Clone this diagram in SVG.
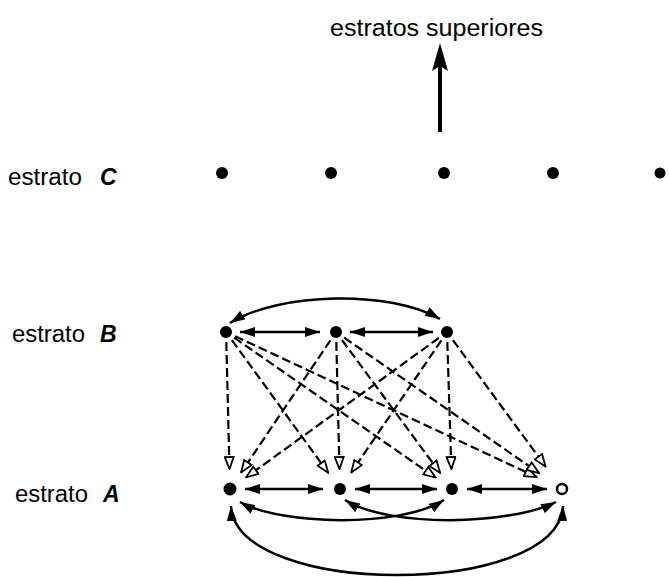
<svg xmlns="http://www.w3.org/2000/svg" width="669" height="577" viewBox="0 0 669 577">
<style>
text{font-family:"Liberation Sans",Arial,sans-serif;font-size:23px;fill:#000}
.L{font-weight:bold;font-style:italic}
.node{fill:#000}
.s{stroke:#000;stroke-width:2.5;fill:none}
.d{stroke:#000;stroke-width:2.2;fill:none;stroke-dasharray:9 4}
.sa{marker-start:url(#hs);marker-end:url(#hs)}
.da{marker-end:url(#ho)}
</style>
<defs>
<marker id="hs" viewBox="0 0 15 10" refX="15" refY="5" markerWidth="15" markerHeight="10" markerUnits="userSpaceOnUse" orient="auto-start-reverse"><path d="M0,0 L15,5 L0,10 z" fill="#000"/></marker>
<marker id="ho" viewBox="0 0 14 11" refX="13" refY="5.5" markerWidth="14" markerHeight="11" markerUnits="userSpaceOnUse" orient="auto"><path d="M1,1 L13,5.5 L1,10 z" fill="#fff" stroke="#000" stroke-width="1.8"/></marker>
</defs>
<g id="labels">
<text x="330" y="36" textLength="213" lengthAdjust="spacingAndGlyphs">estratos superiores</text>
<text x="8" y="185" textLength="74" lengthAdjust="spacingAndGlyphs">estrato</text><text class="L" x="100" y="185">C</text>
<text x="12" y="342" textLength="73" lengthAdjust="spacingAndGlyphs">estrato</text><text class="L" x="100" y="342">B</text>
<text x="15" y="502" textLength="73" lengthAdjust="spacingAndGlyphs">estrato</text><text class="L" x="103" y="502">A</text>
</g>
<g id="connectors">
<line x1="440" y1="132" x2="440" y2="50" stroke="#000" stroke-width="4"/>
<path d="M440,43 L448,71 L440,66 L432,71 z" fill="#000"/>
<line class="s sa" x1="240" y1="332" x2="320" y2="332"/>
<line class="s sa" x1="350" y1="332" x2="433" y2="332"/>
<path class="s sa" d="M230,323 C280,292 390,290 440,319"/>
<line class="d da" x1="226.3" y1="342" x2="229.5" y2="469"/>
<line class="d da" x1="231.9" y1="340.1" x2="328.2" y2="472.8"/>
<line class="d da" x1="234.2" y1="337.7" x2="435.6" y2="477.6"/>
<line class="d da" x1="235.1" y1="336.2" x2="536.6" y2="477.1"/>
<line class="d da" x1="330.4" y1="340.3" x2="241.2" y2="472.4"/>
<line class="d da" x1="336.3" y1="342" x2="339.5" y2="469"/>
<line class="d da" x1="341.9" y1="340" x2="440.1" y2="472.9"/>
<line class="d da" x1="344.2" y1="337.7" x2="539" y2="473"/>
<line class="d da" x1="438.9" y1="337.9" x2="246.2" y2="477.3"/>
<line class="d da" x1="441.4" y1="340.3" x2="351.3" y2="472.5"/>
<line class="d da" x1="447.3" y1="342" x2="451.4" y2="469"/>
<line class="d da" x1="452.9" y1="340.1" x2="545.5" y2="466.4"/>
<line class="s sa" x1="245" y1="489" x2="323" y2="489"/>
<line class="s sa" x1="355" y1="489" x2="437" y2="489"/>
<line class="s sa" x1="467" y1="489" x2="547" y2="489"/>
<path class="s sa" d="M240,502 C280,525 400,528 444,500"/>
<path class="s sa" d="M345,500 C390,528 510,525 556,502"/>
<path class="s sa" d="M231,506 C236,598 558,598 563,506"/>
</g>
<g id="stratum-C">
<circle id="C1" class="node" cx="222" cy="173" r="6"/>
<circle id="C2" class="node" cx="331" cy="173" r="6"/>
<circle id="C3" class="node" cx="444" cy="173" r="6"/>
<circle id="C4" class="node" cx="553" cy="173" r="6"/>
<circle id="C5" class="node" cx="660" cy="173" r="5.5"/>
</g>
<g id="stratum-B">
<circle id="B1" class="node" cx="226" cy="332" r="6"/>
<circle id="B2" class="node" cx="336" cy="332" r="6"/>
<circle id="B3" class="node" cx="447" cy="332" r="6"/>
</g>
<g id="stratum-A">
<circle id="A1" class="node" cx="230" cy="489" r="6.5"/>
<circle id="A2" class="node" cx="340" cy="489" r="6"/>
<circle id="A3" class="node" cx="452" cy="489" r="6"/>
<circle id="A4" cx="562" cy="489" r="5" fill="#fff" stroke="#000" stroke-width="2.5"/>
</g>
</svg>
